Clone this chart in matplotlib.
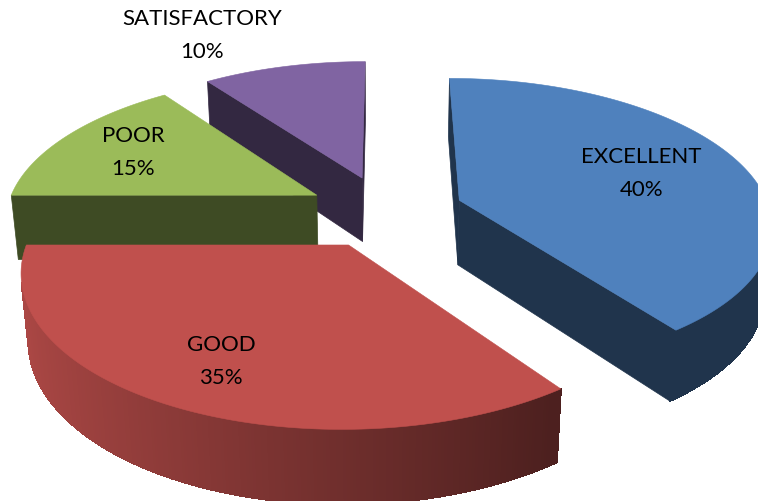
import numpy as np
import matplotlib.pyplot as plt
from matplotlib.patches import Polygon
import matplotlib.colors as mcolors

# data
labels = ["EXCELLENT", "GOOD", "POOR", "SATISFACTORY"]
values = [40, 35, 15, 10]
colors = ["#4F81BD", "#C0504D", "#9BBB59", "#8064A2"]

# label placement (radius from slice apex, angle shift in degrees)
label_r = [0.65, 0.75, 0.72, 1.43]
label_shift = [0, 0, 0, -9]

# 3-D look of the exploded pie (perspective camera)
explode = 0.2525
depth = 0.241
elev = np.radians(27.6)
dist = 6.432
focal = 2000.0
cx, cy = 385.5, 212.4
W, H = 758, 502


def proj(X, Y, Z):
    w = dist + Y - Z * np.tan(elev)
    sx = cx + focal * X / w
    sy = cy - focal * (Y * np.sin(elev) + Z * np.cos(elev)) / w
    return np.column_stack([sx, sy])


def area(p):
    x, y = p[:, 0], p[:, 1]
    return 0.5 * np.sum(x * np.roll(y, -1) - np.roll(x, -1) * y)


def shade(col, f):
    r, g, b = mcolors.to_rgb(col)
    return (r * f, g * f, b * f)


def wall_factor(t):
    return np.clip(0.58 - 0.32 * np.sin(t), 0.40, 0.9)


fig = plt.figure(figsize=(W / 100, H / 100), dpi=100)
ax = fig.add_axes([0, 0, 1, 1])
ax.set_xlim(0, W)
ax.set_ylim(H, 0)
ax.axis("off")

total = float(sum(values))
ends = np.cumsum(values) / total * 360.0
starts = np.concatenate([[0.0], ends[:-1]])

slices = []
for i in range(len(values)):
    a, b = starts[i], ends[i]
    bis = np.radians((a + b) / 2)
    ox, oy = explode * np.sin(bis), explode * np.cos(bis)
    far = dist + oy + 0.5 * np.cos(bis)
    slices.append((far, i, a, b, ox, oy))
slices.sort(key=lambda s: -s[0])  # far slices first

for far, i, a, b, ox, oy in slices:
    n = max(int(b - a) * 2, 2) + 1
    th = np.radians(np.linspace(a, b, n))
    rx, ry = ox + np.sin(th), oy + np.cos(th)
    top_rim = proj(rx, ry, np.zeros(n))
    bot_rim = proj(rx, ry, np.full(n, -depth))
    apex_t = proj(np.array([ox]), np.array([oy]), np.array([0.0]))[0]
    apex_b = proj(np.array([ox]), np.array([oy]), np.array([-depth]))[0]
    top = np.vstack([apex_t, top_rim])
    ref = np.sign(area(top))
    col = colors[i]

    # radial faces
    for f in [np.array([top_rim[0], apex_t, apex_b, bot_rim[0]]),
              np.array([apex_t, top_rim[-1], bot_rim[-1], apex_b])]:
        if np.sign(area(f)) == ref:
            c = shade(col, 0.40)
            ax.add_patch(Polygon(f, closed=True, facecolor=c, edgecolor=c, lw=0.5))

    # outer wall: visible strips, soft outline underneath, flat strips on top
    vis = []
    for k in range(n - 1):
        q = np.array([top_rim[k], bot_rim[k], bot_rim[k + 1], top_rim[k + 1]])
        vis.append(np.sign(area(q)) == ref)
    vis = np.array(vis)
    if vis.any():
        idx = np.where(vis)[0]
        k0, k1 = idx[0], idx[-1] + 1
        outline = np.vstack([top_rim[k0:k1 + 1], bot_rim[k0:k1 + 1][::-1]])
        mid = wall_factor(th[k0:k1 + 1]).mean()
        c = shade(col, mid)
        ax.add_patch(Polygon(outline, closed=True, facecolor=c, edgecolor=c, lw=0.5))
        for k in idx:
            q = np.array([top_rim[k], bot_rim[k], bot_rim[k + 1], top_rim[k + 1]])
            c = shade(col, wall_factor((th[k] + th[k + 1]) / 2))
            ax.add_patch(Polygon(q, closed=True, facecolor=c, edgecolor=c,
                                 lw=0.8, antialiased=False))

    ax.add_patch(Polygon(top, closed=True, facecolor=col, edgecolor=col, lw=0.4))

# data labels
for i in range(len(values)):
    a, b = starts[i], ends[i]
    bis = np.radians((a + b) / 2)
    ox, oy = explode * np.sin(bis), explode * np.cos(bis)
    la = bis + np.radians(label_shift[i])
    p = proj(np.array([ox + label_r[i] * np.sin(la)]),
             np.array([oy + label_r[i] * np.cos(la)]), np.array([0.0]))[0]
    pct = f"{values[i] / total * 100:.0f}%"
    ax.text(p[0], p[1] - 16.5, labels[i], ha="center", va="center",
            fontsize=16, family="Lato", color="black")
    ax.text(p[0], p[1] + 16.5, pct, ha="center", va="center",
            fontsize=16, family="Lato", color="black")

fig.savefig("out.png", dpi=100)
